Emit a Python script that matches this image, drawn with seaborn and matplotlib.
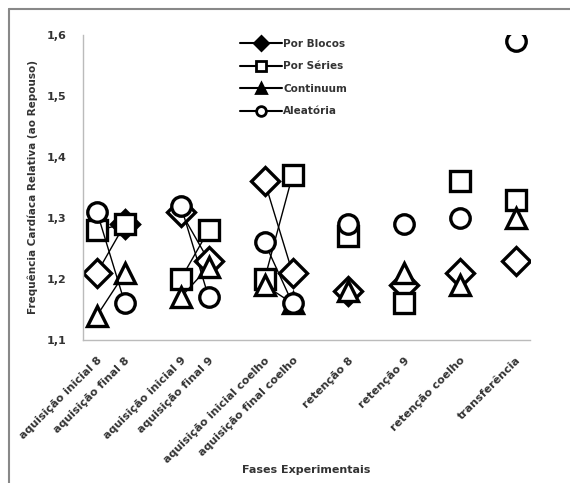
import numpy as np
import pandas as pd
import matplotlib
matplotlib.use('Agg')
import matplotlib.pyplot as plt
from matplotlib.lines import Line2D
import seaborn as sns

# fases (slots vazios separam os pares)
fases = ['aquisição inicial 8', 'aquisição final 8', '',
         'aquisição inicial 9', 'aquisição final 9', '',
         'aquisição inicial coelho', 'aquisição final coelho', '',
         'retenção 8', '', 'retenção 9', '', 'retenção coelho', '', 'transferência']
grupo = [0, 0, -1, 1, 1, -1, 2, 2, -1, 3, -1, 4, -1, 5, -1, 6]

nan = np.nan
por_blocos = [1.21, 1.29, nan, 1.31, 1.23, nan, 1.36, 1.21, nan, 1.18, nan, 1.19, nan, 1.21, nan, 1.23]
por_series = [1.28, 1.29, nan, 1.20, 1.28, nan, 1.20, 1.37, nan, 1.27, nan, 1.16, nan, 1.36, nan, 1.33]
continuum = [1.14, 1.21, nan, 1.17, 1.22, nan, 1.19, 1.16, nan, 1.18, nan, 1.21, nan, 1.19, nan, 1.30]
aleatoria = [1.31, 1.16, nan, 1.32, 1.17, nan, 1.26, 1.16, nan, 1.29, nan, 1.29, nan, 1.30, nan, 1.59]

series = {'Por Blocos': por_blocos, 'Por Séries': por_series,
          'Continuum': continuum, 'Aleatória': aleatoria}
marcadores = {'Por Blocos': 'D', 'Por Séries': 's', 'Continuum': '^', 'Aleatória': 'o'}

y_ticks = [1.1, 1.2, 1.3, 1.4, 1.5, 1.6]
y_labels = ['1,1', '1,2', '1,3', '1,4', '1,5', '1,6']

rows = []
for nome, vals in series.items():
    for i, v in enumerate(vals):
        if not np.isnan(v):
            rows.append({'pos': i, 'valor': v, 'serie': nome, 'grupo': grupo[i]})
df = pd.DataFrame(rows)

sns.set_style('white')
plt.rcParams['font.family'] = ['DejaVu Sans']

fig = plt.figure(figsize=(5.7, 4.83), dpi=100)
ax = fig.add_axes([83 / 570, 1 - 340 / 483, (530 - 83) / 570, (340 - 35) / 483])

sns.lineplot(data=df, x='pos', y='valor', style='serie', units='grupo', estimator=None,
             markers=marcadores, dashes=False, color='black', linewidth=1,
             markersize=14, markerfacecolor='white', markeredgecolor='black',
             markeredgewidth=2.4, legend=False, ax=ax, sort=False)

ax.set_xlim(-0.5, len(fases) - 0.5)
ax.set_ylim(1.1, 1.6)
ax.set_yticks(y_ticks)
ax.set_yticklabels(y_labels, fontsize=8, fontweight='bold', color='#333333')

ax.set_xticks(np.arange(-0.5, len(fases), 1.0))
ax.set_xticklabels([])
ax.set_xticks(np.arange(len(fases)), minor=True)
ax.set_xticklabels(fases, minor=True, rotation=45, ha='right', rotation_mode='anchor',
                   fontsize=8, fontweight='bold', color='#333333')
ax.tick_params(axis='x', which='major', length=6, color='#bbbbbb', width=1, direction='out')
ax.tick_params(axis='x', which='minor', length=0, pad=11)
ax.tick_params(axis='y', length=5, color='#bbbbbb', width=1, direction='out', pad=7)

for s in ['top', 'right']:
    ax.spines[s].set_visible(False)
for s in ['left', 'bottom']:
    ax.spines[s].set_color('#bbbbbb')
    ax.spines[s].set_linewidth(1)

ax.set_xlabel('Fases Experimentais', fontsize=8, fontweight='bold', color='#333333')
ax.xaxis.set_label_coords(0.5, -0.41)
ax.set_ylabel('Frequência Cardíaca Relativa (ao Repouso)', fontsize=7.5, fontweight='bold',
              color='#333333')
ax.yaxis.set_label_coords(-0.1, 0.5)

handles = []
for nome in series:
    fc = 'black' if marcadores[nome] in ('D', '^') else 'white'
    handles.append(Line2D([], [], color='black', lw=1.5, marker=marcadores[nome],
                          markersize=7, markerfacecolor=fc, markeredgecolor='black',
                          markeredgewidth=2))
leg = ax.legend(handles, list(series.keys()), loc='upper left', bbox_to_anchor=(0.33, 1.018),
                frameon=False, handlelength=4.0, handletextpad=0.15, labelspacing=1.2,
                prop={'size': 7.5, 'weight': 'bold'})
for t in leg.get_texts():
    t.set_color('#333333')

# moldura (só o topo e a esquerda aparecem)
fig.add_artist(Line2D([9 / 570, 1], [1 - 9 / 483, 1 - 9 / 483], transform=fig.transFigure,
                      color='#888888', lw=1.5))
fig.add_artist(Line2D([9 / 570, 9 / 570], [0, 1 - 9 / 483], transform=fig.transFigure,
                      color='#888888', lw=1.5))

fig.savefig('out.png', dpi=100)
